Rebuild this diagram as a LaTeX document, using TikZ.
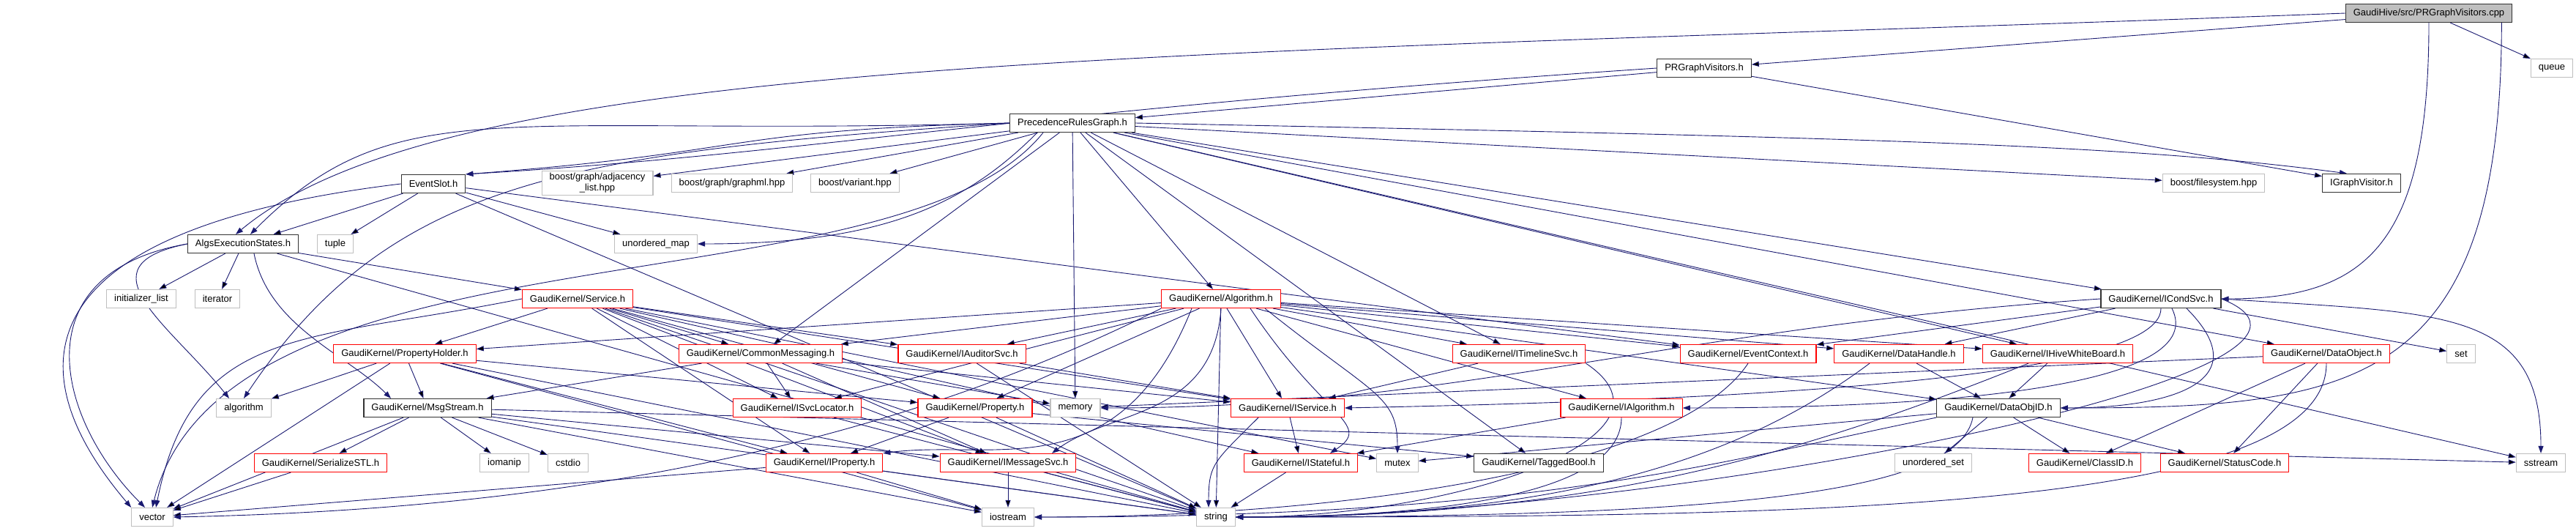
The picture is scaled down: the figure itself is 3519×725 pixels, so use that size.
\documentclass[tikz,border=0pt]{standalone}
\usepackage{fontspec}
\setmainfont{Liberation Sans}
\usetikzlibrary{arrows.meta,backgrounds}
\definecolor{navyedge}{RGB}{25,25,112}
\definecolor{sysgray}{RGB}{191,191,191}

\begin{document}
\begin{tikzpicture}[x=1pt,y=1pt,
  file/.style={draw=black!80,line width=1.2pt,fill=white,inner xsep=10.5pt,inner ysep=2pt,minimum height=25pt,font=\fontsize{13}{15}\selectfont},
  redfile/.style={file,draw=red},
  sysfile/.style={file,draw=sysgray},
  rootfile/.style={file,fill=sysgray},
  dep/.style={draw=navyedge,line width=0.9pt,-{Triangle[length=10pt,width=7pt]}}]
\useasboundingbox (0,0) rectangle (3519,-725);

% top ranks
\node[rootfile] (cpp) at (3318,-18) {GaudiHive/src/PRGraphVisitors.cpp};
\node[file] (prgv) at (2328,-93) {PRGraphVisitors.h};
\node[sysfile] (queue) at (3486,-93) {queue};
\node[file] (prg) at (1465,-168) {PrecedenceRulesGraph.h};
\node[file] (eventslot) at (592,-251) {EventSlot.h};
\node[sysfile,align=center,inner ysep=3pt] (adjlist) at (816,-250) {boost/graph/adjacency\\\_list.hpp};
\node[sysfile] (graphml) at (1000,-250) {boost/graph/graphml.hpp};
\node[sysfile] (variant) at (1168,-250) {boost/variant.hpp};
\node[sysfile] (filesystem) at (3024,-250) {boost/filesystem.hpp};
\node[file] (igraphvisitor) at (3226,-250) {IGraphVisitor.h};
\node[file] (algsexec) at (332,-333) {AlgsExecutionStates.h};
\node[sysfile] (tuple) at (458,-333) {tuple};
\node[sysfile] (umap) at (896,-333) {unordered\_map};

% GaudiKernel headers
\node[sysfile] (initlist) at (193,-408) {initializer\_list};
\node[sysfile] (iterator) at (297,-408) {iterator};
\node[redfile] (service) at (789,-408) {GaudiKernel/Service.h};
\node[redfile] (algorithmh) at (1668,-408) {GaudiKernel/Algorithm.h};
\node[file] (icondsvc) at (2952,-408) {GaudiKernel/ICondSvc.h};
\node[redfile] (propholder) at (553,-483) {GaudiKernel/PropertyHolder.h};
\node[redfile] (commonmsg) at (1039,-483) {GaudiKernel/CommonMessaging.h};
\node[redfile] (iauditorsvc) at (1314,-483) {GaudiKernel/IAuditorSvc.h};
\node[redfile] (itimelinesvc) at (2075,-483) {GaudiKernel/ITimelineSvc.h};
\node[redfile] (eventcontext) at (2388,-483) {GaudiKernel/EventContext.h};
\node[redfile] (datahandle) at (2594,-483) {GaudiKernel/DataHandle.h};
\node[redfile] (ihivewb) at (2811,-483) {GaudiKernel/IHiveWhiteBoard.h};
\node[redfile] (dataobject) at (3178,-483) {GaudiKernel/DataObject.h};
\node[sysfile] (set) at (3362,-483) {set};
\node[sysfile] (stdalgorithm) at (333,-557) {algorithm};
\node[file] (msgstream) at (584,-557) {GaudiKernel/MsgStream.h};
\node[redfile] (isvclocator) at (1089,-557) {GaudiKernel/ISvcLocator.h};
\node[redfile] (property) at (1332,-557) {GaudiKernel/Property.h};
\node[sysfile] (memory) at (1469,-557) {memory};
\node[redfile] (iservice) at (1759,-557) {GaudiKernel/IService.h};
\node[redfile] (ialgorithm) at (2215,-557) {GaudiKernel/IAlgorithm.h};
\node[file] (dataobjid) at (2730,-557) {GaudiKernel/DataObjID.h};
\node[redfile] (serializestl) at (438,-632) {GaudiKernel/SerializeSTL.h};
\node[sysfile] (iomanip) at (689,-632) {iomanip};
\node[sysfile] (cstdio) at (776,-632) {cstdio};
\node[redfile] (iproperty) at (1126,-632) {GaudiKernel/IProperty.h};
\node[redfile] (imessagesvc) at (1377,-632) {GaudiKernel/IMessageSvc.h};
\node[redfile] (istateful) at (1777,-632) {GaudiKernel/IStateful.h};
\node[sysfile] (mutex) at (1909,-632) {mutex};
\node[file] (taggedbool) at (2102,-632) {GaudiKernel/TaggedBool.h};
\node[sysfile] (uset) at (2641,-632) {unordered\_set};
\node[redfile] (classid) at (2848,-632) {GaudiKernel/ClassID.h};
\node[redfile] (statuscode) at (3039,-632) {GaudiKernel/StatusCode.h};
\node[sysfile] (sstream) at (3471,-632) {sstream};
\node[sysfile] (vector) at (208,-706) {vector};
\node[sysfile] (iostream) at (1377,-706) {iostream};
\node[sysfile] (string) at (1661,-706) {string};

\begin{pgfonlayer}{background}
% straight includes
\path[dep] (cpp) edge (prgv) edge (queue);
\path[dep] (prgv) edge (prg) edge (igraphvisitor);
\path[dep] (prg) edge (adjlist) edge (graphml) edge (variant)
  edge (commonmsg) edge (memory) edge (algorithmh) edge (itimelinesvc)
  edge (taggedbool) edge (ihivewb) edge (icondsvc) edge (dataobject)
  edge (sstream) edge (filesystem);
\path[dep] (eventslot) edge (algsexec) edge (tuple) edge (umap)
  edge (eventcontext) edge (string);
\path[dep] (algsexec) edge (initlist) edge (iterator) edge (service) edge (string);
\path[dep] (service) edge (propholder) edge (commonmsg) edge (iauditorsvc)
  edge (isvclocator) edge (property) edge (iproperty) edge (imessagesvc)
  edge (iservice) edge (istateful) edge (mutex) edge (string);
\path[dep] (algorithmh) edge (propholder) edge (commonmsg) edge (iauditorsvc)
  edge (isvclocator) edge (property) edge (iservice)
  edge (itimelinesvc) edge (eventcontext) edge (datahandle) edge (ihivewb)
  edge (ialgorithm) edge (dataobjid) edge (string);
\path[dep] (propholder) edge (stdalgorithm) edge (msgstream) edge (vector)
  edge (iproperty) edge (property) edge (string) edge (iostream);
\path[dep] (commonmsg) edge (msgstream) edge (isvclocator) edge (imessagesvc)
  edge (iservice) edge (memory);
\path[dep] (iauditorsvc) edge (iservice) edge (string);
\path[dep] (msgstream) edge (serializestl) edge (iomanip) edge (cstdio)
  edge (vector) edge (imessagesvc) edge (iostream) edge (string) edge (sstream);
\path[dep] (serializestl) edge (vector);
\path[dep] (isvclocator) edge (string);
\path[dep] (property) edge (iproperty) edge (string) edge (taggedbool);
\path[dep] (iproperty) edge (vector) edge (iostream) edge (string);
\path[dep] (imessagesvc) edge (iostream) edge (string);
\path[dep] (iservice) edge (istateful);
\path[dep] (istateful) edge (string);
\path[dep] (itimelinesvc) edge (iservice);
\path[dep] (datahandle) edge (dataobjid);
\path[dep] (ihivewb) edge (dataobjid);
\path[dep] (icondsvc) edge (eventcontext) edge (datahandle) edge (set);
\path[dep] (dataobject) edge (classid) edge (statuscode) edge (memory);
\path[dep] (ialgorithm) edge (istateful);
\path[dep] (dataobjid) edge (uset) edge (classid) edge (statuscode) edge (mutex);

% curved includes
\draw[dep] (cpp.west) .. controls +(-1600,-60) and +(300,250) .. ([xshift=-10pt]algsexec.north);
\draw[dep] (cpp.south) .. controls +(0,-300) and +(200,0) .. (icondsvc.east);
\draw[dep] ([xshift=-15pt]cpp.south east) .. controls +(0,-500) and +(400,0) .. (dataobjid.east);
\draw[dep] (prgv.west) .. controls +(-900,-60) and +(500,30) .. (eventslot.north east);
\draw[dep] (prg.west) .. controls +(-400,-10) and +(400,30) .. (eventslot.north east);
\draw[dep] (prg.west) .. controls +(-700,-20) and +(200,200) .. ([xshift=10pt]algsexec.north);
\draw[dep] ([xshift=-48pt]prg.south) .. controls +(-100,-100) and +(250,0) .. (umap.east);
\draw[dep] (prg.west) .. controls +(-600,-40) and +(200,300) .. (stdalgorithm.north);
\draw[dep] ([xshift=-40pt]prg.south) .. controls +(-200,-250) and +(100,400) .. (vector.north);
\draw[dep] (prg.east) .. controls +(1000,-20) and +(-300,40) .. ([xshift=-20pt]igraphvisitor.north);
\draw[dep] (eventslot.west) .. controls +(-500,-60) and +(-170,200) .. (vector.north west);
\draw[dep] (algsexec.west) .. controls +(-150,-30) and +(-80,100) .. ([xshift=-20pt]stdalgorithm.north);
\draw[dep] ([xshift=15pt]algsexec.south) .. controls +(20,-100) and +(-60,60) .. ([xshift=-50pt]msgstream.north);
\draw[dep] (algsexec.west) .. controls +(-230,-40) and +(-120,120) .. ([xshift=-10pt]vector.north);
\draw[dep] (service.west) .. controls +(-300,-60) and +(50,250) .. ([xshift=5pt]vector.north);
\draw[dep] ([xshift=-40pt]algorithmh.south) .. controls +(-100,-250) and +(150,20) .. (iproperty.north east);
\draw[dep] (algorithmh.south) .. controls +(-10,-150) and +(80,60) .. ([xshift=60pt]imessagesvc.north);
\draw[dep] ([xshift=40pt]algorithmh.south) .. controls +(100,-150) and +(60,40) .. ([xshift=40pt]istateful.north);
\draw[dep] ([xshift=60pt]algorithmh.south) .. controls +(150,-120) and +(0,80) .. (mutex.north);
\draw[dep] (algorithmh.south west) .. controls +(-400,-200) and +(500,10) .. (vector.east);
\draw[dep] ([xshift=-40pt]iservice.south) .. controls +(-60,-60) and +(0,60) .. ([xshift=-10pt]string.north);
\draw[dep] (itimelinesvc.south east) .. controls +(150,-100) and +(300,0) .. (string.east);
\draw[dep] (eventcontext.south) .. controls +(-100,-150) and +(400,0) .. (iostream.east);
\draw[dep] ([xshift=-40pt]datahandle.south) .. controls +(-200,-150) and +(400,0) .. (string.east);
\draw[dep] ([xshift=-40pt]ihivewb.south) .. controls +(-300,-120) and +(500,0) .. (string.east);
\draw[dep] (icondsvc.south) .. controls +(0,-100) and +(500,10) .. (iservice.east);
\draw[dep] ([xshift=15pt]icondsvc.south) .. controls +(50,-100) and +(400,0) .. (ialgorithm.east);
\draw[dep] ([xshift=35pt]icondsvc.south) .. controls +(100,-100) and +(150,0) .. (dataobjid.east);
\draw[dep] (icondsvc.east) .. controls +(300,-20) and +(0,200) .. (sstream.north);
\draw[dep] (icondsvc.east) .. controls +(250,-100) and +(600,0) .. (string.east);
\draw[dep] (icondsvc.west) .. controls +(-600,-40) and +(500,0) .. (memory.east);
\draw[dep] (dataobject.south) .. controls +(0,-200) and +(800,0) .. (string.east);
\draw[dep] (ialgorithm.south) .. controls +(0,-100) and +(300,0) .. (string.east);
\draw[dep] (dataobjid.south west) .. controls +(-300,-60) and +(700,0) .. (iostream.east);
\draw[dep] ([xshift=-35pt]dataobjid.south) .. controls +(-20,-100) and +(700,0) .. (string.east);
\end{pgfonlayer}
\end{tikzpicture}
\end{document}
